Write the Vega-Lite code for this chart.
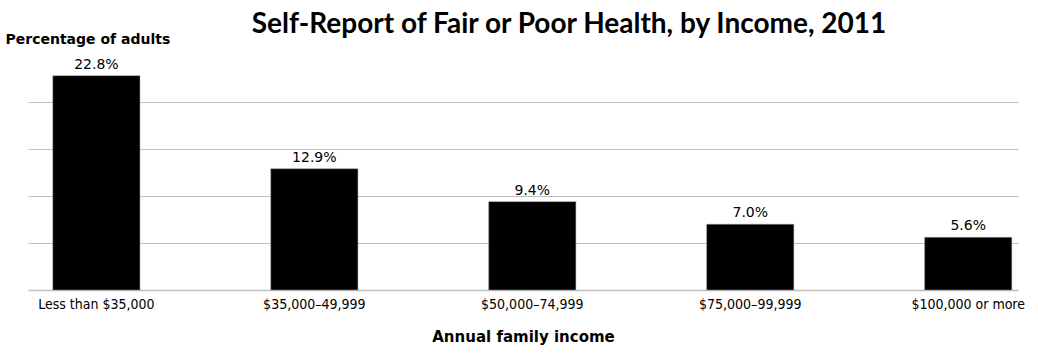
{
  "$schema": "https://vega.github.io/schema/vega-lite/v6.json",
  "width": 990,
  "height": 235,
  "autosize": "none",
  "padding": {"left": 28, "top": 55, "right": 20, "bottom": 70},
  "background": "white",
  "view": {"stroke": null},
  "title": {
    "text": "Self-Report of Fair or Poor Health, by Income, 2011",
    "font": "Lato",
    "fontWeight": "bold",
    "fontSize": 28,
    "color": "black",
    "anchor": "middle",
    "frame": "group",
    "dx": 46,
    "offset": -7
  },
  "data": {
    "values": [
      {"income": "Less than $35,000", "value": 22.8},
      {"income": "$35,000–49,999", "value": 12.9},
      {"income": "$50,000–74,999", "value": 9.4},
      {"income": "$75,000–99,999", "value": 7.0},
      {"income": "$100,000 or more", "value": 5.6}
    ]
  },
  "transform": [{"calculate": "format(datum.value, '.1f') + '%'", "as": "label"}],
  "encoding": {
    "x": {
      "field": "income",
      "type": "nominal",
      "sort": null,
      "scale": {"paddingInner": 0.6, "paddingOuter": 0.0711, "align": 0.8},
      "axis": {
        "title": "Annual family income",
        "titleFont": "DejaVu Sans",
        "titleFontWeight": "bold",
        "titleFontSize": 15,
        "titleColor": "black",
        "titlePadding": 18,
        "labelAngle": 0,
        "labelFont": "DejaVu Sans Condensed",
        "labelFontSize": 14,
        "labelColor": "black",
        "labelPadding": 7,
        "ticks": false,
        "domainColor": "#bfbfbf",
        "domainWidth": 1.5,
        "grid": false
      }
    },
    "y": {
      "field": "value",
      "type": "quantitative",
      "scale": {"domain": [0, 25]},
      "axis": {
        "title": "Percentage of adults",
        "titleFont": "DejaVu Sans",
        "titleFontWeight": "bold",
        "titleFontSize": 14,
        "titleColor": "black",
        "titleAngle": 0,
        "titleAlign": "left",
        "titleBaseline": "alphabetic",
        "titleX": -23,
        "titleY": -12,
        "values": [5, 10, 15, 20],
        "labels": false,
        "ticks": false,
        "domain": false,
        "grid": true,
        "gridColor": "#bfbfbf",
        "gridWidth": 1.2
      }
    }
  },
  "layer": [
    {"mark": {"type": "bar", "color": "black", "stroke": "#999999", "strokeWidth": 0.5}},
    {
      "mark": {"type": "text", "baseline": "bottom", "dy": -4, "font": "DejaVu Sans", "fontSize": 14, "color": "black"},
      "encoding": {"text": {"field": "label"}}
    }
  ]
}
